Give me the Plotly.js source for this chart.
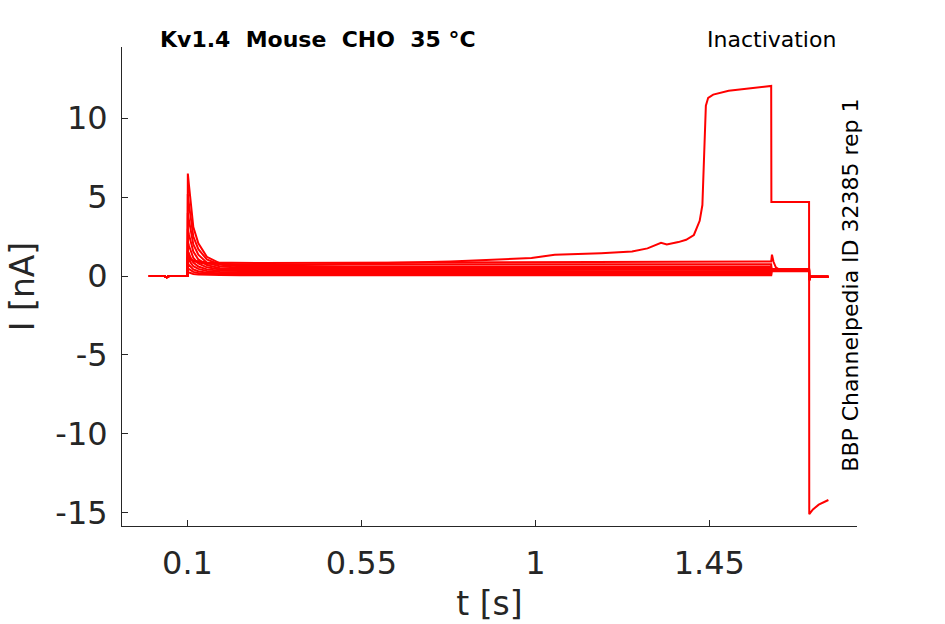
<!DOCTYPE html>
<html>
<head>
<meta charset="utf-8">
<script src="https://cdn.plot.ly/plotly-3.0.1.min.js"></script>
<style>
  html, body { margin: 0; padding: 0; background: #fff; }
  #plot { width: 945px; height: 624px; }
</style>
</head>
<body>
<div id="plot"></div>
<script>
'use strict';

// shared time base for the ordinary sweeps (s)
var tMain = [0, 0.04, 0.046, 0.052, 0.1, 0.1008, 0.104, 0.108, 0.115, 0.128, 0.15, 0.184, 0.236,
             0.4, 0.6, 0.8, 1.0, 1.2, 1.4, 1.61, 1.6105, 1.708, 1.7085, 1.71, 1.758];

// ordinary sweeps (nA)
var sweep1  = [0, 0, -0.08, 0, 0, 5.2, 4.5, 3.7, 2.5, 1.7, 1.05, 0.72, 0.62, 0.6, 0.62, 0.6, 0.61, 0.6, 0.62, 0.6, 0.45, 0.44, -0.25, -0.05, -0.05];
var sweep2  = [0, 0, -0.08, 0, 0, 4.0, 3.5, 2.9, 2.0, 1.35, 0.85, 0.6, 0.54, 0.52, 0.53, 0.51, 0.53, 0.52, 0.54, 0.52, 0.42, 0.41, -0.25, -0.05, -0.05];
var sweep3  = [0, 0, -0.08, 0, 0, 3.0, 2.6, 2.2, 1.55, 1.05, 0.7, 0.5, 0.46, 0.45, 0.46, 0.44, 0.46, 0.45, 0.47, 0.45, 0.4, 0.39, -0.25, -0.05, -0.05];
var sweep4  = [0, 0, -0.08, 0, 0, 2.2, 1.9, 1.6, 1.15, 0.8, 0.55, 0.42, 0.39, 0.38, 0.39, 0.37, 0.39, 0.38, 0.4, 0.38, 0.37, 0.37, -0.25, -0.05, -0.05];
var sweep5  = [0, 0, -0.08, 0, 0, 1.6, 1.4, 1.15, 0.85, 0.6, 0.42, 0.33, 0.31, 0.3, 0.31, 0.29, 0.31, 0.3, 0.32, 0.3, 0.35, 0.35, -0.25, -0.05, -0.05];
var sweep6  = [0, 0, -0.08, 0, 0, 1.2, 1.05, 0.85, 0.62, 0.45, 0.32, 0.25, 0.23, 0.22, 0.23, 0.21, 0.23, 0.22, 0.24, 0.22, 0.33, 0.33, -0.25, -0.05, -0.05];
var sweep7  = [0, 0, -0.08, 0, 0, 0.8, 0.7, 0.58, 0.42, 0.3, 0.21, 0.17, 0.16, 0.15, 0.16, 0.14, 0.16, 0.15, 0.17, 0.15, 0.32, 0.32, -0.25, -0.05, -0.05];
var sweep8  = [0, 0, -0.08, 0, 0, 0.5, 0.44, 0.36, 0.26, 0.19, 0.14, 0.11, 0.1, 0.1, 0.11, 0.09, 0.11, 0.1, 0.11, 0.1, 0.31, 0.31, -0.25, -0.05, -0.05];
var sweep9  = [0, 0, -0.08, 0, 0, 0.25, 0.22, 0.18, 0.13, 0.1, 0.07, 0.06, 0.05, 0.05, 0.06, 0.04, 0.06, 0.05, 0.06, 0.05, 0.3, 0.3, -0.25, -0.05, -0.05];
var sweep10 = [0, 0, -0.08, 0, 0, 1.6, 1.3, 1.1, 0.95, 0.85, 0.78, 0.75, 0.74, 0.73, 0.74, 0.75, 0.74, 0.76, 0.75, 0.74, 0.45, 0.44, -0.25, -0.05, -0.05];

// sweep with the bump at the end of the prepulse
var tBump = [0, 0.04, 0.046, 0.052, 0.1, 0.1008, 0.11, 0.15, 0.3, 0.6, 0.9, 1.2, 1.4, 1.61,
             1.612, 1.616, 1.622, 1.63, 1.708, 1.7085, 1.71, 1.758];
var sweepBump = [0, 0, -0.08, 0, 0, 1.25, 1.0, 0.85, 0.82, 0.85, 0.88, 0.9, 0.9, 0.92,
                 1.35, 0.9, 0.55, 0.42, 0.4, -0.25, -0.05, -0.05];

// sweep that opens late in the prepulse and gives the test-pulse current
var tBig = [0, 0.04, 0.046, 0.052, 0.1, 0.1008, 0.104, 0.108, 0.115, 0.128, 0.15, 0.184, 0.236,
            0.4, 0.65, 0.78, 0.99, 1.05, 1.17, 1.25, 1.29, 1.31, 1.325, 1.34, 1.37, 1.39, 1.41, 1.425,
            1.432, 1.437, 1.441, 1.447, 1.46, 1.5, 1.55, 1.61, 1.6105, 1.708, 1.7085, 1.718, 1.733, 1.758];
var sweepBig = [0, 0, -0.08, 0, 0, 6.5, 5.7, 4.6, 3.1, 2.07, 1.22, 0.8, 0.65,
                0.7, 0.85, 0.92, 1.14, 1.35, 1.45, 1.55, 1.75, 1.95, 2.1, 2.0, 2.15, 2.3, 2.6, 3.5,
                4.5, 8.0, 10.8, 11.3, 11.5, 11.75, 11.9, 12.05, 4.7, 4.7, -15.1, -14.8, -14.5, -14.2];

var xTickVals = [0.1, 0.55, 1, 1.45];
var xTickText = ['0.1', '0.55', '1', '1.45'];
var yTickVals = [-15, -10, -5, 0, 5, 10];
var yTickText = ['-15', '-10', '-5', '0', '5', '10'];

var small = [sweep1, sweep2, sweep3, sweep4, sweep5, sweep6, sweep7, sweep8, sweep9, sweep10];

var red = '#ff0000';
var data = [];
small.forEach(function(v) {
	data.push({x: tMain, y: v, type: 'scatter', mode: 'lines', line: {color: red, width: 2}, hoverinfo: 'skip'});
});
data.push({x: tBump, y: sweepBump, type: 'scatter', mode: 'lines', line: {color: red, width: 2}, hoverinfo: 'skip'});
data.push({x: tBig, y: sweepBig, type: 'scatter', mode: 'lines', line: {color: red, width: 2}, hoverinfo: 'skip'});

var axisColor = '#262626';
var font = 'DejaVu Sans, sans-serif';

var layout = {
	width: 945,
	height: 624,
	margin: {l: 122, r: 88, t: 47, b: 98},
	paper_bgcolor: '#fff',
	plot_bgcolor: '#fff',
	showlegend: false,
	font: {family: font, color: axisColor},
	xaxis: {
		range: [-0.0695, 1.832],
		tickvals: xTickVals,
		ticktext: xTickText,
		ticks: 'inside',
		ticklen: 6,
		tickcolor: axisColor,
		showline: true,
		linecolor: axisColor,
		linewidth: 1,
		showgrid: false,
		zeroline: false,
		ticklabelstandoff: 9,
		tickfont: {size: 32, color: axisColor},
		title: {text: 't [s]', font: {size: 33, color: axisColor}, standoff: 10}
	},
	yaxis: {
		range: [-15.85, 14.52],
		tickvals: yTickVals,
		ticktext: yTickText,
		ticks: 'inside',
		ticklen: 6,
		tickcolor: axisColor,
		showline: true,
		linecolor: axisColor,
		linewidth: 1,
		showgrid: false,
		zeroline: false,
		ticklabelstandoff: 7,
		tickfont: {size: 32, color: axisColor},
		title: {text: 'I [nA]', font: {size: 33, color: axisColor}, standoff: 10}
	},
	annotations: [
		{text: '<b>Kv1.4\u00a0\u00a0Mouse\u00a0\u00a0CHO\u00a0\u00a035 °C</b>', xref: 'paper', yref: 'paper',
		 x: 0.049, y: 1.0167, xanchor: 'left', yanchor: 'middle', showarrow: false,
		 font: {size: 22, color: '#000', family: font}},
		{text: 'Inactivation', xref: 'paper', yref: 'paper',
		 x: 0.974, y: 1.0167, xanchor: 'right', yanchor: 'middle', showarrow: false,
		 font: {size: 22, color: '#000', family: font}},
		{text: 'BBP Channelpedia ID 32385 rep 1', xref: 'paper', yref: 'paper',
		 x: 0.99, y: 0.503, xanchor: 'center', yanchor: 'middle', textangle: -90, showarrow: false,
		 font: {size: 22, color: '#000', family: font}}
	]
};

Plotly.newPlot('plot', data, layout, {staticPlot: true, displayModeBar: false});
</script>
</body>
</html>
